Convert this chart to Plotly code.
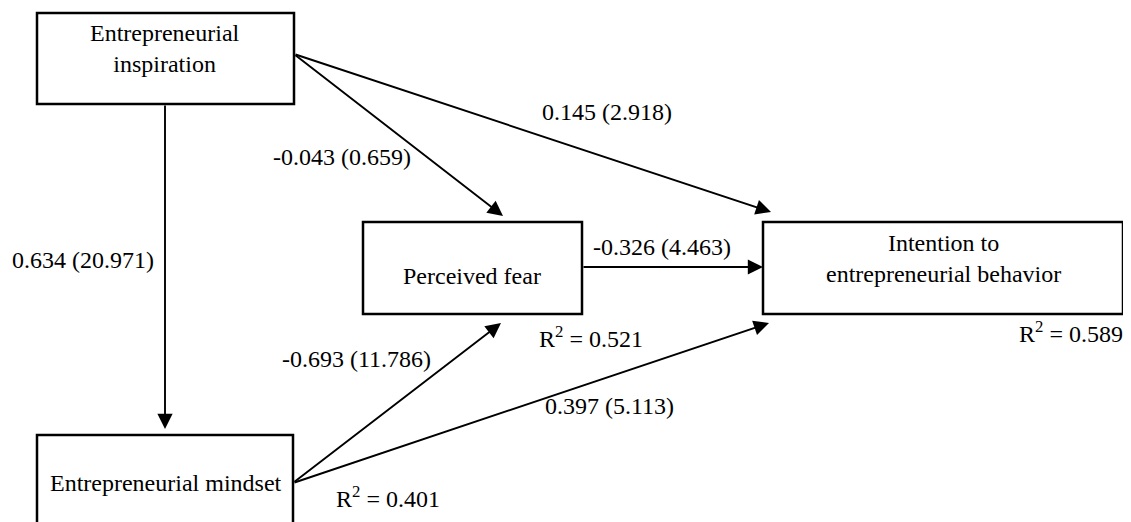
import plotly.graph_objects as go

# ---- data ----
node_names = [
    "Entrepreneurial<br>inspiration",
    "Entrepreneurial mindset",
    "Perceived fear",
    "Intention to<br>entrepreneurial behavior",
]
edge_from = [0, 0, 0, 2, 1, 1]
edge_to = [1, 2, 3, 3, 2, 3]
edge_coef = [0.634, -0.043, 0.145, -0.326, -0.693, 0.397]
edge_t = [20.971, 0.659, 2.918, 4.463, 11.786, 5.113]
r2_nodes = [1, 2, 3]
r2_values = [0.401, 0.521, 0.589]

# ---- layout geometry (page pixel space) ----
W, H = 1131, 522
PAGE_MARGIN = 8  # default browser body margin
boxes = [(37, 13, 294, 104), (37, 435, 293, 530), (363, 222, 582, 314), (763, 222, 1123, 314)]
node_text_pos = [(165, 48), (166, 483), (472, 276), (943, 258)]
edge_tail = [(165, 104), (294, 54), (294, 54), (582, 267), (293, 483), (293, 483)]
edge_tip = [(165, 429), (503, 216), (771, 212), (763, 267), (501, 323), (769, 323)]
edge_label_pos = [(83, 260), (342, 157), (607, 112), (662, 247), (356, 359), (609, 406)]
r2_pos = [(388, 497), (591, 337), (1071, 332)]

FONT = dict(family="Liberation Serif, Times New Roman, serif", size=24, color="black")

fig = go.Figure()

shapes = []
annotations = []
for (x0, y0, x1, y1), name, (tx, ty) in zip(boxes, node_names, node_text_pos):
    shapes.append(dict(type="rect", xref="x", yref="y", x0=x0, y0=y0, x1=x1, y1=y1,
                       line=dict(color="black", width=2.5), fillcolor="rgba(0,0,0,0)"))
    annotations.append(dict(x=tx, y=ty, xref="x", yref="y", text=name, showarrow=False,
                            font=FONT, xanchor="center", yanchor="middle", align="center"))

for i in range(len(edge_from)):
    (ax, ay), (x, y) = edge_tail[i], edge_tip[i]
    annotations.append(dict(x=x, y=y, ax=ax, ay=ay, xref="x", yref="y", axref="x", ayref="y",
                            text="", showarrow=True, arrowhead=2, arrowsize=1.6,
                            arrowwidth=1.9, arrowcolor="black", standoff=0, startstandoff=0))
    lx, ly = edge_label_pos[i]
    annotations.append(dict(x=lx, y=ly, xref="x", yref="y",
                            text=f"{edge_coef[i]:.3f} ({edge_t[i]:.3f})", showarrow=False,
                            font=FONT, xanchor="center", yanchor="middle"))

for n, v, (rx, ry) in zip(r2_nodes, r2_values, r2_pos):
    annotations.append(dict(x=rx, y=ry, xref="x", yref="y",
                            text=f"R<sup>2</sup> = {v:.3f}", showarrow=False,
                            font=FONT, xanchor="center", yanchor="middle"))

fig.update_layout(
    width=W - PAGE_MARGIN, height=H - PAGE_MARGIN,
    margin=dict(l=0, r=0, t=0, b=0),
    paper_bgcolor="white", plot_bgcolor="white",
    xaxis=dict(range=[PAGE_MARGIN, W], visible=False, fixedrange=True),
    yaxis=dict(range=[H, PAGE_MARGIN], visible=False, fixedrange=True),
    shapes=shapes, annotations=annotations, showlegend=False,
)

fig.write_html("out.html")
